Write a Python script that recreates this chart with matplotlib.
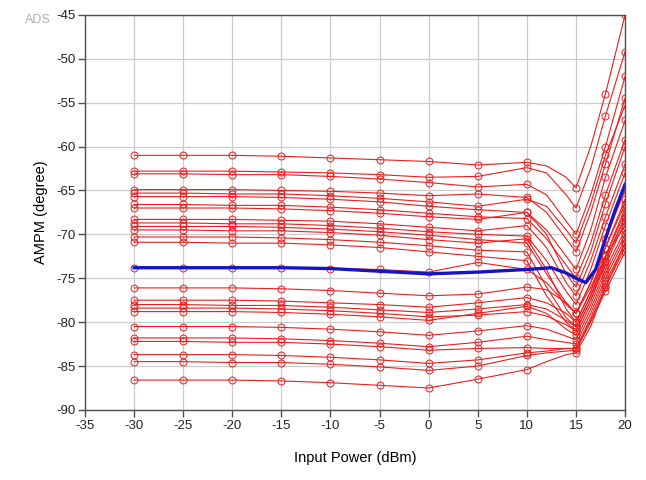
import matplotlib.pyplot as plt

plt.rcParams["font.family"] = ["Liberation Sans", "DejaVu Sans"]
plt.rcParams["axes.unicode_minus"] = False

# swept input power (dBm) shared by every red trace
power = [-30, -25, -20, -15, -10, -5, 0, 5, 10, 12, 14, 15, 16.5, 18, 20]
marked = [0, 1, 2, 3, 4, 5, 6, 7, 8, 11, 13, 14]

# AM-PM of each instance (degree), upper group
upper = [
    [-61.0, -61.0, -61.0, -61.1, -61.3, -61.5, -61.7, -62.1, -61.8, -62.2, -63.5, -64.7, -60.0, -54.0, -45.0],
    [-62.8, -62.8, -62.8, -62.9, -63.0, -63.2, -63.5, -63.4, -62.4, -63.0, -65.5, -67.0, -62.5, -56.5, -49.2],
    [-63.1, -63.1, -63.2, -63.2, -63.4, -63.7, -64.1, -64.6, -64.3, -65.5, -68.5, -70.0, -65.5, -60.0, -52.0],
    [-64.9, -64.9, -64.9, -65.0, -65.1, -65.3, -65.6, -65.4, -65.8, -67.5, -70.5, -72.0, -67.5, -62.0, -54.5],
    [-65.3, -65.3, -65.4, -65.4, -65.6, -65.9, -66.3, -66.8, -66.0, -66.8, -69.5, -71.0, -66.5, -61.0, -55.3],
    [-65.7, -65.7, -65.7, -65.8, -66.0, -66.3, -66.8, -67.2, -67.5, -69.5, -72.5, -74.0, -69.5, -63.5, -57.0],
    [-66.6, -66.6, -66.7, -66.7, -66.9, -67.2, -67.6, -68.0, -68.2, -70.5, -73.5, -75.0, -71.0, -65.5, -59.2],
    [-67.0, -67.0, -67.0, -67.1, -67.3, -67.6, -68.0, -68.3, -67.5, -70.0, -74.5, -76.0, -72.0, -66.5, -60.0],
    [-68.3, -68.3, -68.3, -68.4, -68.5, -68.8, -69.2, -69.6, -69.0, -71.5, -75.5, -77.0, -73.0, -68.0, -62.0],
    [-68.7, -68.7, -68.8, -68.8, -69.0, -69.3, -69.7, -70.0, -70.2, -73.0, -76.5, -78.0, -74.0, -69.0, -63.0],
    [-69.1, -69.1, -69.1, -69.2, -69.4, -69.7, -70.1, -70.6, -71.0, -74.5, -77.8, -79.0, -75.5, -70.5, -65.0],
    [-69.5, -69.5, -69.6, -69.6, -69.8, -70.1, -70.6, -71.0, -70.5, -74.0, -78.5, -80.0, -76.5, -71.5, -66.0],
    [-70.3, -70.3, -70.3, -70.4, -70.6, -70.9, -71.3, -71.8, -72.0, -76.0, -79.5, -80.5, -77.0, -72.5, -67.0],
    [-70.9, -70.9, -71.0, -71.0, -71.2, -71.5, -72.0, -72.5, -73.0, -77.0, -80.0, -81.0, -77.5, -73.0, -68.0],
    [-73.8, -73.8, -73.8, -73.8, -73.9, -74.0, -74.3, -73.2, -74.0, -75.5, -78.0, -79.0, -76.0, -72.5, -69.0],
]

# lower group
lower = [
    [-76.1, -76.1, -76.1, -76.2, -76.4, -76.7, -77.0, -76.8, -76.0, -76.3, -77.8, -79.0, -75.5, -71.5, -66.5],
    [-77.5, -77.5, -77.5, -77.6, -77.8, -78.0, -78.3, -77.8, -77.2, -77.8, -79.0, -80.0, -76.5, -72.5, -67.5],
    [-78.0, -78.0, -78.1, -78.1, -78.3, -78.6, -78.9, -78.5, -78.0, -78.5, -79.8, -80.5, -77.0, -73.0, -68.0],
    [-78.4, -78.4, -78.4, -78.5, -78.7, -79.0, -79.4, -79.2, -78.8, -79.3, -80.3, -81.0, -77.5, -73.5, -68.5],
    [-78.8, -78.8, -78.8, -78.9, -79.1, -79.4, -79.8, -79.0, -78.2, -79.0, -80.8, -81.5, -78.0, -74.0, -69.5],
    [-80.5, -80.5, -80.5, -80.6, -80.8, -81.1, -81.5, -81.0, -80.4, -80.8, -81.6, -82.0, -78.5, -74.5, -70.0],
    [-81.8, -81.8, -81.8, -81.9, -82.1, -82.4, -82.8, -82.3, -81.6, -82.0, -82.3, -82.5, -79.0, -75.0, -70.5],
    [-82.2, -82.2, -82.3, -82.3, -82.5, -82.8, -83.2, -83.0, -82.9, -83.0, -83.0, -83.0, -79.5, -75.5, -71.0],
    [-83.7, -83.7, -83.7, -83.8, -84.0, -84.3, -84.7, -84.3, -83.5, -83.3, -83.0, -83.0, -79.8, -76.0, -71.5],
    [-84.5, -84.5, -84.6, -84.6, -84.8, -85.1, -85.5, -85.0, -83.8, -83.5, -83.3, -83.2, -80.0, -76.5, -72.0],
    [-86.6, -86.6, -86.6, -86.7, -86.9, -87.2, -87.5, -86.5, -85.4, -84.5, -83.7, -83.5, -80.5, -76.0, -71.0],
]

# nominal trace
nom_power = [-30, -25, -20, -15, -10, -5, 0, 5, 10, 12.5, 14, 15, 16, 17, 18, 19, 20]
nom_ampm = [-73.8, -73.8, -73.8, -73.8, -73.9, -74.2, -74.5, -74.3, -74.0, -73.8,
            -74.4, -75.0, -75.5, -74.0, -70.5, -67.2, -64.3]

fig = plt.figure(figsize=(6.46, 4.8), dpi=100)
ax = fig.add_axes([0.1316, 0.146, 0.836, 0.823])

for trace in upper + lower:
    ax.plot(power, trace, color="#ee1c1c", lw=0.8, marker="o", ms=5,
            mfc="none", mec="#e52020", mew=0.7, markevery=marked)
ax.plot(nom_power, nom_ampm, color="#1414c8", lw=2.4)

ax.set_xlim(-35, 20)
ax.set_ylim(-90, -45)
ax.set_xticks(range(-35, 21, 5))
ax.set_yticks(range(-90, -44, 5))
ax.grid(True, color="#cccccc", lw=0.9)
ax.set_axisbelow(True)
for s in ax.spines.values():
    s.set_color("#505050")
    s.set_linewidth(1.0)
ax.tick_params(direction="out", length=5, width=1, color="#505050",
               labelsize=9.5, labelcolor="#222222", pad=2)

ax.set_xlabel("Input Power (dBm)", fontsize=10.5, labelpad=14)
ax.set_ylabel("AMPM (degree)", fontsize=10.5, labelpad=6)

fig.text(0.039, 0.952, "ADS", fontsize=9, color="#b0b0b0")

fig.savefig("out.png", dpi=100)
